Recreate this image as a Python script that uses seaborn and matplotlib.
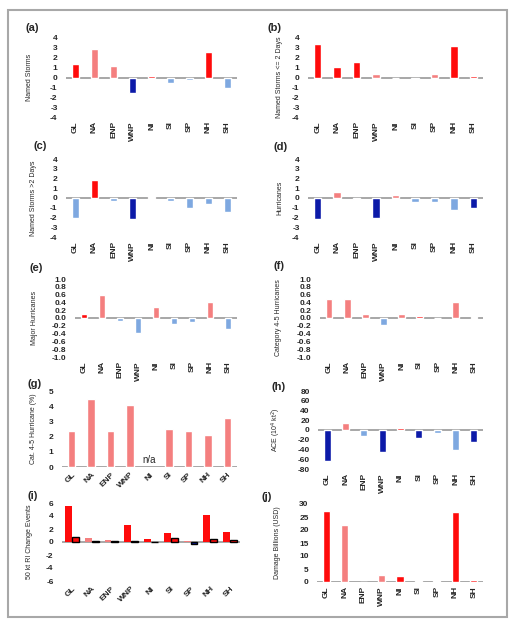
import numpy as np
import pandas as pd
import seaborn as sns
import matplotlib
matplotlib.use("Agg")
import matplotlib.pyplot as plt
from matplotlib.patches import Rectangle

regions = ["GL", "NA", "ENP", "WNP", "NI", "SI", "SP", "NH", "SH"]

# bar values per panel
named_storms = [1.4, 2.9, 1.2, -1.6, 0.15, -0.6, -0.3, 2.6, -1.1]
storms_short = [3.4, 1.1, 1.6, 0.4, 0.0, -0.15, 0.4, 3.2, 0.15]
storms_long = [-2.0, 1.8, -0.3, -2.2, 0.15, -0.3, -1.0, -0.6, -1.4]
hurricanes = [-2.2, 0.6, -0.1, -2.0, 0.35, -0.4, -0.4, -1.2, -1.0]
major_hurr = [0.1, 0.6, -0.08, -0.38, 0.27, -0.15, -0.1, 0.4, -0.28]
cat45_hurr = [0.5, 0.5, 0.1, -0.18, 0.1, 0.05, 0.0, 0.4, 0.02]
cat45_pct = [2.4, 4.5, 2.4, 4.1, np.nan, 2.5, 2.4, 2.1, 3.2]
ace = [-64, 15, -12, -46, 4, -16, -7, -40, -25]
ri_all = [5.6, 0.6, 0.3, 2.6, 0.5, 1.4, 0.1, 4.1, 1.5]
ri_sig = [0.8, 0.1, 0.2, 0.15, 0.0, 0.6, -0.3, 0.4, 0.3]
damage = [27.3, 21.8, 0.0, 2.7, 2.5, 0.3, 0.2, 26.8, 0.6]

# colour codes per bar: R strong red, r light red, B dark blue, b light blue, m mid blue
col_a = "RrrBRbbRb"
col_b = "RRRrRmrRR"
col_c = "bRbBRbbbb"
col_d = "BrmBrbbbB"
col_e = "Rrbbrbbrb"
col_f = "rrrbrRrrr"
col_g = "rrrrrrrrr"
col_h = "BrbBRBbbB"
col_i = "RrrRRRrRR"
col_i2 = "RRRRRRBRR"
col_j = "RrRrRRrRR"

COLORS = {"R": "#ff0b0b", "r": "#f47f7f", "B": "#0c1aa8", "b": "#7ea8e0", "m": "#2d6fd0"}

sns.set_style("white")
plt.rcParams["font.family"] = ["Liberation Sans", "DejaVu Sans"]
plt.rcParams["axes.unicode_minus"] = False

W, H = 512, 623
fig = plt.figure(figsize=(W / 100, H / 100), dpi=100)
fig.patches.append(Rectangle((8 / W, 1 - 617 / H), 499 / W, 607 / H, transform=fig.transFigure,
                             fill=False, edgecolor="#a8a8a8", linewidth=1.5))


def make_axes(x0, x1, y0, y1):
    return fig.add_axes([x0 / W, 1 - y1 / H, (x1 - x0) / W, (y1 - y0) / H])


def style(ax, x0, label, ylab, ylab_x, lim, step, fmt, tag_xy, rot=90):
    ticks = np.round(np.arange(lim[0], lim[1] + step / 2, step), 6) + 0.0
    ax.set_xlim(-0.5, 8.5)
    ax.set_ylim(*lim)
    ax.set_yticks(ticks)
    ax.set_yticklabels([fmt.format(v) if abs(v) > 1e-9 else fmt.format(0) for v in ticks],
                       fontsize=6, fontweight="bold")
    ax.tick_params(axis="y", length=0, pad=6)
    ax.tick_params(axis="x", length=0, pad=3)
    ax.set_xticks(range(9))
    if rot == 90:
        ax.set_xticklabels(regions, rotation=90, fontsize=6, fontweight="bold")
    else:
        ax.set_xticklabels(regions, rotation=45, ha="right", rotation_mode="anchor",
                           fontsize=6, fontweight="bold")
    ax.set_xlabel("")
    ax.set_ylabel(ylab, fontsize=5)
    bb = ax.get_position()
    ax.yaxis.set_label_coords((ylab_x - x0) / (bb.width * W), 0.5)
    for s in ax.spines.values():
        s.set_visible(False)
    ax.axhline(0, color="#a0a0a0", linewidth=1.3, zorder=0.5)
    fig.text(tag_xy[0] / W, 1 - tag_xy[1] / H, label, fontsize=8, fontweight="bold",
             ha="left", va="center")


def bars(ax, vals, codes, width=0.38):
    sns.barplot(x=regions, y=vals, hue=regions, palette=[COLORS[c] for c in codes],
                legend=False, ax=ax, width=width, saturation=1)


panels = [
    # x0, x1, y0, y1, tag, ylabel, ylabel x, lim, step, fmt, tag pos, values, colours
    (66, 237, 38, 117, "(a)", "Named Storms", 33, (-4, 4), 1, "{:.0f}", (26, 28), named_storms, col_a),
    (308, 483, 38, 117, "(b)", "Named Storms <= 2 Days", 283, (-4, 4), 1, "{:.0f}", (267, 28), storms_short, col_b),
    (66, 237, 159, 237, "(c)", "Named Storms >2 Days", 37, (-4, 4), 1, "{:.0f}", (34, 146), storms_long, col_c),
    (308, 483, 159, 237, "(d)", "Hurricanes", 283, (-4, 4), 1, "{:.0f}", (274, 147), hurricanes, col_d),
    (75, 237, 279, 357, "(e)", "Major Hurricanes", 38, (-1, 1), 0.2, "{:.1f}", (29, 268), major_hurr, col_e),
    (320, 483, 279, 357, "(f)", "Category 4-5 Hurricanes", 282, (-1, 1), 0.2, "{:.1f}", (273, 266), cat45_hurr, col_f),
    (318, 483, 391, 469, "(h)", "ACE (10$^4$ kt$^2$)", 283, (-80, 80), 20, "{:.0f}", (272, 387), ace, col_h),
    (317, 483, 504, 582, "(j)", "Damage Billions (USD)", 281, (0, 30), 5, "{:.0f}", (262, 497), damage, col_j),
]

for x0, x1, y0, y1, tag, ylab, ylx, lim, step, fmt, tpos, vals, codes in panels:
    ax = make_axes(x0, x1, y0, y1)
    bars(ax, vals, codes)
    style(ax, x0, tag, ylab, ylx, lim, step, fmt, tpos)

# (g) percentage of Cat 4-5 hurricanes
ax = make_axes(62, 237, 391, 467)
bars(ax, cat45_pct, col_g)
style(ax, 62, "(g)", "Cat. 4-5 Hurricane (%)", 37, (0, 5), 1, "{:.0f}", (28, 384), rot=45)
ax.text(4, 0.15, "n/a", fontsize=7, ha="center", va="bottom")

# (i) RI events, all vs significant
ax = make_axes(62, 240, 503, 581)
ri = pd.DataFrame({
    "region": regions * 2,
    "series": ["all"] * 9 + ["sig"] * 9,
    "value": ri_all + ri_sig,
})
sns.barplot(data=ri, x="region", y="value", hue="series", hue_order=["all", "sig"],
            order=regions, legend=False, ax=ax, width=0.7, saturation=1, dodge=True)
codes = col_i + col_i2
for k, p in enumerate(ax.patches[:18]):
    p.set_facecolor(COLORS[codes[k]])
    if k >= 9:
        p.set_edgecolor("black")
        p.set_linewidth(1.0)
    else:
        p.set_edgecolor("none")
style(ax, 62, "(i)", "50 kt RI Change Events", 33, (-6, 6), 2, "{:.0f}", (28, 496), rot=45)

fig.savefig("out.png", dpi=100)
